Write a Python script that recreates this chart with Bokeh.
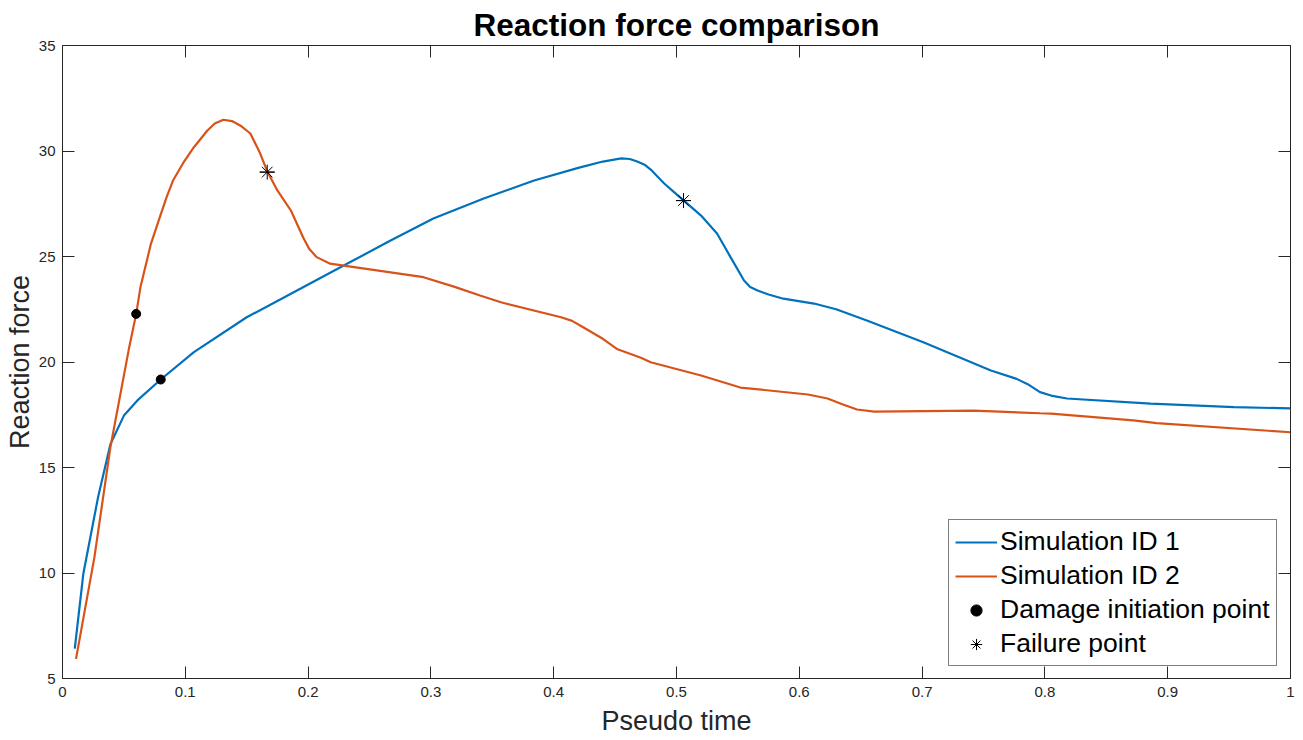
from bokeh.plotting import figure
from bokeh.models import (Range1d, FixedTicker, LinearAxis, Legend, LegendItem,
                          CustomJSTickFormatter, Title)
from bokeh.embed import file_html
from bokeh.resources import INLINE

# ---- data ----
x_sim1 = [0.010, 0.017, 0.029, 0.039, 0.050, 0.061, 0.080, 0.107, 0.150, 0.194,
          0.229, 0.266, 0.302, 0.343, 0.384, 0.420, 0.440, 0.455, 0.462, 0.468,
          0.474, 0.479, 0.490, 0.498, 0.506, 0.520, 0.533, 0.544, 0.555, 0.560,
          0.566, 0.575, 0.587, 0.612, 0.630, 0.655, 0.701, 0.756, 0.777, 0.786,
          0.796, 0.805, 0.818, 0.886, 0.954, 1.000]
y_sim1 = [6.42, 9.98, 13.60, 16.10, 17.46, 18.18, 19.17, 20.47, 22.12, 23.48,
          24.57, 25.72, 26.80, 27.75, 28.60, 29.20, 29.50, 29.65, 29.62, 29.50,
          29.35, 29.12, 28.46, 28.05, 27.65, 26.94, 26.09, 24.97, 23.86, 23.55,
          23.39, 23.20, 23.00, 22.77, 22.50, 21.97, 20.94, 19.60, 19.20, 18.95,
          18.57, 18.41, 18.27, 18.03, 17.86, 17.80]

x_sim2 = [0.011, 0.026, 0.039, 0.054, 0.060, 0.0635, 0.072, 0.080, 0.085, 0.090,
          0.099, 0.107, 0.118, 0.124, 0.131, 0.138, 0.145, 0.153, 0.161, 0.167,
          0.175, 0.180, 0.186, 0.196, 0.201, 0.207, 0.218, 0.229, 0.294, 0.320,
          0.340, 0.357, 0.406, 0.415, 0.424, 0.440, 0.452, 0.471, 0.479, 0.520,
          0.552, 0.607, 0.623, 0.635, 0.647, 0.661, 0.742, 0.796, 0.805, 0.872,
          0.891, 1.000]
y_sim2 = [5.93, 10.75, 15.96, 20.60, 22.28, 23.55, 25.60, 27.00, 27.85, 28.60,
          29.50, 30.18, 30.97, 31.30, 31.48, 31.42, 31.20, 30.83, 29.88, 29.00,
          28.13, 27.70, 27.18, 25.90, 25.35, 24.97, 24.66, 24.57, 24.02, 23.55,
          23.15, 22.83, 22.12, 21.95, 21.65, 21.10, 20.60, 20.20, 19.99, 19.36,
          18.79, 18.46, 18.27, 18.00, 17.75, 17.65, 17.70, 17.57, 17.55, 17.23,
          17.10, 16.67]

x_damage = [0.060, 0.080]
y_damage = [22.28, 19.17]
x_failure = [0.1667, 0.5057]
y_failure = [29.00, 27.65]

x_ticks = [0, 0.1, 0.2, 0.3, 0.4, 0.5, 0.6, 0.7, 0.8, 0.9, 1]
y_ticks = [5, 10, 15, 20, 25, 30, 35]

series_labels = ["Simulation ID 1", "Simulation ID 2",
                 "Damage initiation point", "Failure point"]

BLUE = "#0072BD"
ORANGE = "#D95319"
AX = "#262626"
FONT = "Liberation Sans"

p = figure(width=1303, height=740, x_range=Range1d(0, 1), y_range=Range1d(5, 35),
           output_backend="svg", toolbar_location=None,
           min_border_left=62, min_border_right=13, min_border_top=45,
           min_border_bottom=62, x_axis_location=None, y_axis_location=None)
p.grid.visible = False
p.outline_line_color = None
p.background_fill_color = "white"
p.border_fill_color = "white"

def style_axis(ax, ticks, labels=True):
    ax.ticker = FixedTicker(ticks=ticks)
    ax.axis_line_color = AX
    ax.axis_line_width = 1
    ax.major_tick_line_color = AX
    ax.major_tick_in = 12
    ax.major_tick_out = 0
    ax.minor_tick_line_color = None
    ax.major_label_text_font = FONT
    ax.major_label_text_font_size = "15px"
    ax.major_label_text_color = AX
    ax.axis_label_text_font = FONT
    ax.axis_label_text_font_size = "27px"
    ax.axis_label_text_font_style = "normal"
    ax.axis_label_text_color = AX
    if not labels:
        ax.formatter = CustomJSTickFormatter(code="return ''")
        ax.major_label_standoff = 0

xb = LinearAxis(axis_label="Pseudo time")
style_axis(xb, x_ticks)
xb.major_label_standoff = 8
xb.axis_label_standoff = 6
yl = LinearAxis(axis_label="Reaction force")
style_axis(yl, y_ticks)
yl.major_label_standoff = 7
yl.axis_label_standoff = 1
xt = LinearAxis()
style_axis(xt, x_ticks, labels=False)
yr = LinearAxis()
style_axis(yr, y_ticks, labels=False)
p.add_layout(xb, "below")
p.add_layout(yl, "left")
p.add_layout(xt, "above")
p.add_layout(yr, "right")

p.add_layout(Title(text="Reaction force comparison", align="center",
                   text_font=FONT, text_font_size="31.5px", text_font_style="bold",
                   text_color="black", standoff=5, text_line_height=0.85), "above")

r1 = p.line(x_sim1, y_sim1, line_color=BLUE, line_width=2.2)
r2 = p.line(x_sim2, y_sim2, line_color=ORANGE, line_width=2.2)
rd = p.scatter(x_damage, y_damage, marker="circle", size=9, fill_color="black",
               line_color="black")
rf1 = p.scatter(x_failure, y_failure, marker="asterisk", size=15, line_color="black",
                line_width=1)
rf2 = p.scatter(x_failure, y_failure, marker="dash", size=15, line_color="black",
                line_width=1)

legend = Legend(items=[
    LegendItem(label=series_labels[0], renderers=[r1]),
    LegendItem(label=series_labels[1], renderers=[r2]),
    LegendItem(label=series_labels[2], renderers=[rd]),
    LegendItem(label=series_labels[3], renderers=[rf1, rf2]),
], location=(886, 12))
legend.label_text_font = FONT
legend.label_text_font_size = "26.5px"
legend.label_text_color = "black"
legend.glyph_width = 42
legend.glyph_height = 28
legend.label_height = 28
legend.spacing = 3
legend.padding = 6
legend.margin = 0
legend.label_standoff = 3
legend.border_line_color = "black"
legend.border_line_width = 1
legend.background_fill_color = "white"
legend.background_fill_alpha = 1
p.add_layout(legend)

open("out.html", "w").write(file_html(p, INLINE))
